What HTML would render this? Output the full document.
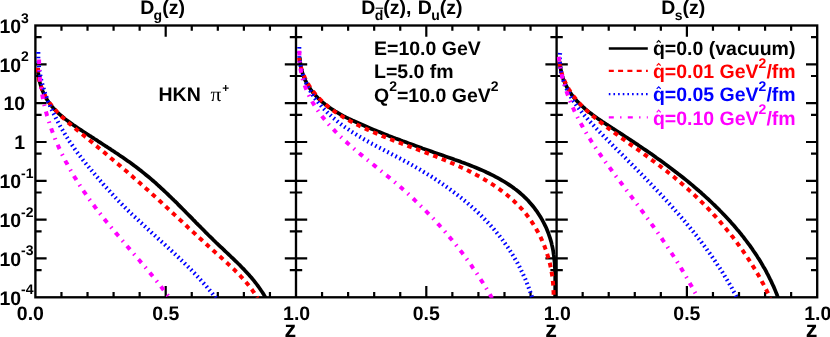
<!DOCTYPE html>
<html><head><meta charset="utf-8"><title>FF</title>
<style>html,body{margin:0;padding:0;background:#fff;}svg{display:block;will-change:transform;}text{font-family:"Liberation Sans",sans-serif;font-weight:bold;text-rendering:geometricPrecision;}</style>
</head><body>
<svg width="830" height="337" viewBox="0 0 830 337">
<rect x="0" y="0" width="830" height="337" fill="#fff"/>
<defs>
<clipPath id="c1"><rect x="35.4" y="25.5" width="260.6" height="272.3"/></clipPath>
<clipPath id="c2"><rect x="296.0" y="25.5" width="260.6" height="272.3"/></clipPath>
<clipPath id="c3"><rect x="556.6" y="25.5" width="260.6" height="272.3"/></clipPath>
</defs>
<g stroke="#000" fill="none" stroke-linecap="butt">
<rect x="35.4" y="25.5" width="781.8000000000001" height="271.8" stroke-width="2.35"/>
<line x1="296.0" y1="25.5" x2="296.0" y2="297.3" stroke-width="2.35"/>
<line x1="556.6" y1="25.5" x2="556.6" y2="297.3" stroke-width="2.35"/>
<path d="M61.46,25.5 v5.3 M61.46,297.3 v-5.3 M87.52,25.5 v5.3 M87.52,297.3 v-5.3 M113.58,25.5 v5.3 M113.58,297.3 v-5.3 M139.64,25.5 v5.3 M139.64,297.3 v-5.3 M165.70,25.5 v11.2 M165.70,297.3 v-11.2 M191.76,25.5 v5.3 M191.76,297.3 v-5.3 M217.82,25.5 v5.3 M217.82,297.3 v-5.3 M243.88,25.5 v5.3 M243.88,297.3 v-5.3 M269.94,25.5 v5.3 M269.94,297.3 v-5.3 M322.06,25.5 v5.3 M322.06,297.3 v-5.3 M348.12,25.5 v5.3 M348.12,297.3 v-5.3 M374.18,25.5 v5.3 M374.18,297.3 v-5.3 M400.24,25.5 v5.3 M400.24,297.3 v-5.3 M426.30,25.5 v11.2 M426.30,297.3 v-11.2 M452.36,25.5 v5.3 M452.36,297.3 v-5.3 M478.42,25.5 v5.3 M478.42,297.3 v-5.3 M504.48,25.5 v5.3 M504.48,297.3 v-5.3 M530.54,25.5 v5.3 M530.54,297.3 v-5.3 M582.66,25.5 v5.3 M582.66,297.3 v-5.3 M608.72,25.5 v5.3 M608.72,297.3 v-5.3 M634.78,25.5 v5.3 M634.78,297.3 v-5.3 M660.84,25.5 v5.3 M660.84,297.3 v-5.3 M686.90,25.5 v11.2 M686.90,297.3 v-11.2 M712.96,25.5 v5.3 M712.96,297.3 v-5.3 M739.02,25.5 v5.3 M739.02,297.3 v-5.3 M765.08,25.5 v5.3 M765.08,297.3 v-5.3 M791.14,25.5 v5.3 M791.14,297.3 v-5.3 M35.4,37.19 h6.2 M289.8,37.19 h12.4 M550.4,37.19 h12.4 M817.2,37.19 h-6.2 M35.4,64.33 h11.2 M284.8,64.33 h22.4 M545.4,64.33 h22.4 M817.2,64.33 h-11.2 M35.4,76.02 h6.2 M289.8,76.02 h12.4 M550.4,76.02 h12.4 M817.2,76.02 h-6.2 M35.4,103.16 h11.2 M284.8,103.16 h22.4 M545.4,103.16 h22.4 M817.2,103.16 h-11.2 M35.4,114.85 h6.2 M289.8,114.85 h12.4 M550.4,114.85 h12.4 M817.2,114.85 h-6.2 M35.4,141.99 h11.2 M284.8,141.99 h22.4 M545.4,141.99 h22.4 M817.2,141.99 h-11.2 M35.4,153.67 h6.2 M289.8,153.67 h12.4 M550.4,153.67 h12.4 M817.2,153.67 h-6.2 M35.4,180.81 h11.2 M284.8,180.81 h22.4 M545.4,180.81 h22.4 M817.2,180.81 h-11.2 M35.4,192.50 h6.2 M289.8,192.50 h12.4 M550.4,192.50 h12.4 M817.2,192.50 h-6.2 M35.4,219.64 h11.2 M284.8,219.64 h22.4 M545.4,219.64 h22.4 M817.2,219.64 h-11.2 M35.4,231.33 h6.2 M289.8,231.33 h12.4 M550.4,231.33 h12.4 M817.2,231.33 h-6.2 M35.4,258.47 h11.2 M284.8,258.47 h22.4 M545.4,258.47 h22.4 M817.2,258.47 h-11.2 M35.4,270.16 h6.2 M289.8,270.16 h12.4 M550.4,270.16 h12.4 M817.2,270.16 h-6.2" stroke-width="2.2"/>
</g>
<g clip-path="url(#c1)" fill="none" stroke-width="3.7" stroke-linejoin="round">
<path d="M37.9,68.0 L38.0,70.2 L38.2,72.5 L38.5,74.7 L38.8,76.9 L39.2,79.0 L39.6,81.1 L40.1,83.2 L40.7,85.2 L41.3,87.2 L42.0,89.2 L42.7,91.1 L43.5,93.0 L44.4,94.9 L45.3,96.7 L46.3,98.5 L47.4,100.2 L48.5,101.9 L49.6,103.5 L50.8,105.1 L52.1,106.6 L53.4,108.2 L54.8,109.6 L56.2,111.1 L57.6,112.5 L59.1,113.9 L60.6,115.2 L62.2,116.5 L63.7,117.8 L65.3,119.1 L67.0,120.4 L68.6,121.6 L70.3,122.8 L72.0,124.0 L73.7,125.2 L75.5,126.4 L77.2,127.6 L78.9,128.7 L80.7,129.9 L82.4,131.0 L84.2,132.2 L85.9,133.3 L87.7,134.5 L89.4,135.6 L91.2,136.7 L93.0,137.9 L94.7,139.0 L96.5,140.1 L98.2,141.3 L100.0,142.4 L101.7,143.5 L103.5,144.7 L105.2,145.8 L107.0,146.9 L108.7,148.1 L110.5,149.2 L112.2,150.4 L114.0,151.5 L115.7,152.7 L117.4,153.8 L119.1,155.0 L120.9,156.2 L122.6,157.3 L124.3,158.5 L126.0,159.7 L127.7,160.9 L129.4,162.1 L131.1,163.3 L132.7,164.5 L134.4,165.8 L136.1,167.0 L137.7,168.2 L139.3,169.5 L141.0,170.8 L142.6,172.1 L144.2,173.4 L145.8,174.7 L147.4,176.0 L149.0,177.3 L150.6,178.6 L152.1,180.0 L153.7,181.3 L155.3,182.7 L156.8,184.1 L158.3,185.5 L159.9,186.9 L161.4,188.3 L162.9,189.7 L164.4,191.1 L165.9,192.5 L167.4,193.9 L168.9,195.4 L170.4,196.8 L171.9,198.3 L173.4,199.7 L174.9,201.2 L176.4,202.6 L177.8,204.1 L179.3,205.6 L180.8,207.1 L182.2,208.5 L183.7,210.0 L185.2,211.5 L186.6,213.0 L188.1,214.5 L189.5,215.9 L191.0,217.4 L192.5,218.9 L193.9,220.4 L195.4,221.9 L196.8,223.4 L198.3,224.9 L199.8,226.3 L201.2,227.8 L202.7,229.3 L204.2,230.8 L205.6,232.3 L207.1,233.7 L208.6,235.2 L210.1,236.7 L211.6,238.1 L213.0,239.6 L214.5,241.0 L216.0,242.5 L217.5,243.9 L219.0,245.3 L220.6,246.8 L222.1,248.2 L223.6,249.6 L225.1,251.1 L226.6,252.5 L228.1,253.9 L229.6,255.3 L231.1,256.8 L232.6,258.2 L234.1,259.6 L235.6,261.1 L237.1,262.5 L238.6,264.0 L240.1,265.4 L241.5,266.9 L242.9,268.4 L244.4,269.9 L245.8,271.4 L247.2,272.9 L248.6,274.4 L249.9,276.0 L251.3,277.5 L252.6,279.1 L253.9,280.7 L255.2,282.3 L256.5,284.0 L257.7,285.6 L258.9,287.3 L260.1,289.0 L261.3,290.8 L262.5,292.5 L263.6,294.3 L264.7,296.1 L265.7,297.9" stroke="#000000" stroke-width="3.7"/>
<path d="M37.9,67.9 L38.0,70.2 L38.1,72.5 L38.3,74.6 L38.6,76.8 L39.0,78.9 L39.4,81.0 L40.0,83.0 L40.5,84.9 L41.2,86.9 L41.9,88.8 L42.6,90.6 L43.4,92.4 L44.3,94.2 L45.2,95.9 L46.2,97.7 L47.2,99.3 L48.3,101.0 L49.4,102.6 L50.6,104.2 L51.8,105.8 L53.0,107.3 L54.3,108.8 L55.6,110.3 L56.9,111.8 L58.3,113.2 L59.7,114.6 L61.1,116.1 L62.6,117.5 L64.1,118.8 L65.6,120.2 L67.1,121.6 L68.6,122.9 L70.2,124.2 L71.7,125.6 L73.3,126.9 L74.9,128.2 L76.4,129.5 L78.0,130.8 L79.6,132.1 L81.2,133.4 L82.8,134.7 L84.4,136.0 L86.0,137.3 L87.5,138.6 L89.1,139.9 L90.7,141.2 L92.3,142.5 L93.8,143.8 L95.4,145.1 L97.0,146.4 L98.5,147.7 L100.1,149.0 L101.7,150.3 L103.2,151.6 L104.8,152.9 L106.4,154.2 L107.9,155.5 L109.5,156.8 L111.0,158.2 L112.6,159.5 L114.1,160.8 L115.7,162.1 L117.2,163.4 L118.8,164.7 L120.3,166.0 L121.8,167.4 L123.4,168.7 L124.9,170.0 L126.5,171.3 L128.0,172.7 L129.5,174.0 L131.0,175.3 L132.6,176.6 L134.1,178.0 L135.6,179.3 L137.1,180.6 L138.7,182.0 L140.2,183.3 L141.7,184.7 L143.2,186.0 L144.7,187.4 L146.2,188.7 L147.8,190.1 L149.3,191.4 L150.8,192.8 L152.3,194.2 L153.8,195.5 L155.3,196.9 L156.8,198.3 L158.3,199.6 L159.8,201.0 L161.3,202.4 L162.7,203.8 L164.2,205.1 L165.7,206.5 L167.2,207.9 L168.7,209.3 L170.2,210.7 L171.7,212.1 L173.2,213.5 L174.7,214.9 L176.1,216.2 L177.6,217.6 L179.1,219.0 L180.6,220.4 L182.1,221.8 L183.6,223.2 L185.1,224.6 L186.6,226.0 L188.0,227.4 L189.5,228.8 L191.0,230.1 L192.5,231.5 L194.0,232.9 L195.5,234.3 L197.0,235.7 L198.5,237.1 L200.0,238.4 L201.5,239.8 L203.0,241.2 L204.5,242.6 L206.0,243.9 L207.5,245.3 L209.0,246.7 L210.5,248.1 L212.0,249.4 L213.5,250.8 L215.0,252.1 L216.5,253.5 L218.0,254.8 L219.6,256.2 L221.1,257.5 L222.6,258.9 L224.1,260.3 L225.6,261.6 L227.1,263.0 L228.6,264.4 L230.1,265.7 L231.5,267.1 L233.0,268.5 L234.5,269.9 L235.9,271.4 L237.3,272.8 L238.8,274.2 L240.2,275.7 L241.5,277.2 L242.9,278.7 L244.3,280.2 L245.6,281.7 L246.9,283.2 L248.2,284.8 L249.5,286.4 L250.7,288.0 L251.9,289.6 L253.1,291.3 L254.3,293.0 L255.4,294.7 L256.5,296.4 L257.6,298.2" stroke="#ff0000" stroke-width="4.0" stroke-dasharray="4.6 4.6"/>
<path d="M38.3,52.1 L38.3,54.1 L38.3,56.1 L38.3,58.0 L38.4,60.0 L38.5,61.9 L38.7,63.9 L38.9,65.8 L39.1,67.8 L39.3,69.7 L39.6,71.6 L40.0,73.6 L40.3,75.5 L40.7,77.4 L41.1,79.3 L41.5,81.2 L42.0,83.1 L42.5,85.0 L43.1,86.8 L43.6,88.7 L44.2,90.6 L44.8,92.4 L45.4,94.3 L46.1,96.1 L46.8,97.9 L47.5,99.8 L48.2,101.6 L49.0,103.4 L49.7,105.2 L50.5,107.0 L51.3,108.8 L52.2,110.6 L53.0,112.4 L53.9,114.1 L54.8,115.9 L55.6,117.6 L56.6,119.4 L57.5,121.1 L58.4,122.8 L59.4,124.6 L60.3,126.3 L61.3,128.0 L62.3,129.7 L63.3,131.4 L64.3,133.0 L65.3,134.7 L66.4,136.4 L67.4,138.0 L68.5,139.7 L69.5,141.3 L70.6,142.9 L71.7,144.5 L72.8,146.1 L73.9,147.7 L75.0,149.3 L76.1,150.9 L77.3,152.5 L78.4,154.0 L79.6,155.6 L80.8,157.1 L82.0,158.6 L83.2,160.2 L84.4,161.7 L85.6,163.2 L86.8,164.7 L88.1,166.2 L89.3,167.7 L90.6,169.2 L91.8,170.7 L93.1,172.2 L94.3,173.7 L95.6,175.2 L96.8,176.7 L98.1,178.2 L99.4,179.7 L100.7,181.2 L102.0,182.6 L103.2,184.1 L104.5,185.6 L105.8,187.1 L107.1,188.5 L108.4,190.0 L109.8,191.4 L111.1,192.9 L112.4,194.3 L113.7,195.8 L115.1,197.2 L116.4,198.6 L117.8,200.1 L119.1,201.5 L120.5,202.9 L121.9,204.3 L123.2,205.7 L124.6,207.0 L126.0,208.4 L127.4,209.8 L128.8,211.2 L130.2,212.5 L131.6,213.9 L133.0,215.2 L134.4,216.6 L135.9,217.9 L137.3,219.3 L138.7,220.6 L140.1,222.0 L141.6,223.3 L143.0,224.6 L144.4,225.9 L145.9,227.3 L147.3,228.6 L148.7,229.9 L150.2,231.2 L151.6,232.6 L153.1,233.9 L154.5,235.2 L155.9,236.5 L157.4,237.8 L158.8,239.2 L160.3,240.5 L161.7,241.8 L163.2,243.1 L164.6,244.4 L166.0,245.8 L167.5,247.1 L168.9,248.4 L170.3,249.7 L171.8,251.1 L173.2,252.4 L174.6,253.7 L176.0,255.1 L177.4,256.4 L178.9,257.8 L180.3,259.1 L181.7,260.5 L183.1,261.8 L184.5,263.2 L185.9,264.6 L187.3,266.0 L188.6,267.3 L190.0,268.7 L191.4,270.1 L192.7,271.5 L194.1,272.9 L195.4,274.3 L196.8,275.7 L198.1,277.2 L199.5,278.6 L200.8,280.1 L202.1,281.5 L203.4,283.0 L204.7,284.4 L206.0,285.9 L207.3,287.4 L208.5,288.9 L209.8,290.4 L211.1,291.9 L212.3,293.4 L213.5,295.0 L214.8,296.5 L216.0,298.1" stroke="#0000ff" stroke-width="4.1" stroke-dasharray="1.6 2.95"/>
<path d="M39.1,59.4 L39.1,61.2 L39.1,63.0 L39.2,64.9 L39.2,66.7 L39.3,68.5 L39.4,70.3 L39.5,72.1 L39.6,73.9 L39.7,75.7 L39.9,77.5 L40.0,79.3 L40.2,81.0 L40.4,82.8 L40.6,84.6 L40.9,86.3 L41.1,88.1 L41.4,89.8 L41.7,91.6 L41.9,93.3 L42.3,95.1 L42.6,96.8 L42.9,98.5 L43.3,100.3 L43.6,102.0 L44.0,103.7 L44.4,105.4 L44.8,107.1 L45.2,108.8 L45.7,110.5 L46.1,112.2 L46.6,113.8 L47.0,115.5 L47.5,117.2 L48.0,118.8 L48.5,120.5 L49.1,122.2 L49.6,123.8 L50.2,125.5 L50.7,127.1 L51.3,128.7 L51.9,130.4 L52.5,132.0 L53.1,133.6 L53.7,135.2 L54.4,136.8 L55.0,138.5 L55.7,140.1 L56.3,141.7 L57.0,143.2 L57.7,144.8 L58.4,146.4 L59.1,148.0 L59.9,149.6 L60.6,151.1 L61.3,152.7 L62.1,154.3 L62.9,155.8 L63.7,157.4 L64.4,158.9 L65.2,160.5 L66.0,162.0 L66.9,163.5 L67.7,165.1 L68.5,166.6 L69.4,168.1 L70.2,169.6 L71.1,171.1 L72.0,172.6 L72.9,174.1 L73.7,175.6 L74.6,177.1 L75.6,178.6 L76.5,180.1 L77.4,181.6 L78.3,183.0 L79.3,184.5 L80.2,186.0 L81.2,187.4 L82.1,188.9 L83.1,190.3 L84.1,191.8 L85.1,193.2 L86.1,194.7 L87.1,196.1 L88.1,197.5 L89.1,199.0 L90.1,200.4 L91.1,201.8 L92.2,203.2 L93.2,204.6 L94.3,206.0 L95.3,207.4 L96.4,208.8 L97.4,210.2 L98.5,211.6 L99.6,213.0 L100.7,214.4 L101.8,215.7 L102.8,217.1 L103.9,218.5 L105.0,219.9 L106.1,221.2 L107.2,222.6 L108.4,223.9 L109.5,225.3 L110.6,226.7 L111.7,228.0 L112.8,229.4 L114.0,230.7 L115.1,232.0 L116.2,233.4 L117.4,234.7 L118.5,236.1 L119.6,237.4 L120.8,238.7 L121.9,240.1 L123.1,241.4 L124.2,242.7 L125.3,244.1 L126.5,245.4 L127.6,246.7 L128.8,248.1 L129.9,249.4 L131.1,250.7 L132.2,252.0 L133.4,253.4 L134.5,254.7 L135.7,256.0 L136.8,257.4 L137.9,258.7 L139.1,260.0 L140.2,261.3 L141.3,262.7 L142.5,264.0 L143.6,265.3 L144.7,266.7 L145.9,268.0 L147.0,269.3 L148.1,270.7 L149.2,272.0 L150.4,273.4 L151.5,274.7 L152.6,276.1 L153.7,277.4 L154.8,278.8 L155.9,280.1 L157.0,281.5 L158.0,282.8 L159.1,284.2 L160.2,285.5 L161.3,286.9 L162.3,288.3 L163.4,289.7 L164.4,291.0 L165.5,292.4 L166.5,293.8 L167.6,295.2 L168.6,296.6 L169.6,298.0" stroke="#ff00ff" stroke-width="4.0" stroke-dasharray="4.7 5.7 1.5 5.7"/>
</g>
<g clip-path="url(#c2)" fill="none" stroke-width="3.7" stroke-linejoin="round">
<path d="M299.8,57.5 L300.0,60.2 L300.3,62.8 L300.6,65.4 L301.1,67.9 L301.7,70.4 L302.4,72.8 L303.1,75.1 L304.0,77.4 L304.9,79.6 L306.0,81.7 L307.1,83.8 L308.3,85.9 L309.6,87.9 L310.9,89.8 L312.3,91.7 L313.8,93.5 L315.4,95.3 L317.0,97.0 L318.6,98.7 L320.4,100.3 L322.1,101.9 L324.0,103.4 L325.8,104.9 L327.7,106.3 L329.7,107.7 L331.7,109.1 L333.7,110.4 L335.8,111.7 L337.9,112.9 L340.0,114.1 L342.2,115.3 L344.3,116.5 L346.5,117.6 L348.7,118.7 L351.0,119.7 L353.2,120.8 L355.4,121.8 L357.7,122.8 L359.9,123.8 L362.2,124.8 L364.4,125.8 L366.7,126.8 L368.9,127.7 L371.2,128.7 L373.4,129.6 L375.6,130.5 L377.9,131.4 L380.1,132.3 L382.3,133.2 L384.6,134.1 L386.8,135.0 L389.0,135.9 L391.2,136.7 L393.5,137.6 L395.7,138.5 L397.9,139.3 L400.2,140.1 L402.4,141.0 L404.6,141.8 L406.9,142.6 L409.1,143.5 L411.4,144.3 L413.6,145.1 L415.9,145.9 L418.1,146.7 L420.4,147.5 L422.6,148.4 L424.9,149.2 L427.2,150.0 L429.4,150.8 L431.7,151.6 L434.0,152.4 L436.3,153.2 L438.6,154.0 L440.9,154.8 L443.2,155.6 L445.5,156.4 L447.8,157.2 L450.2,158.0 L452.5,158.8 L454.8,159.7 L457.2,160.5 L459.5,161.3 L461.8,162.2 L464.1,163.0 L466.4,163.9 L468.8,164.8 L471.1,165.7 L473.4,166.6 L475.6,167.5 L477.9,168.5 L480.2,169.5 L482.4,170.4 L484.7,171.4 L486.9,172.5 L489.1,173.5 L491.3,174.6 L493.5,175.7 L495.6,176.8 L497.7,177.9 L499.9,179.1 L501.9,180.3 L504.0,181.5 L506.0,182.8 L508.1,184.1 L510.0,185.4 L512.0,186.8 L513.9,188.1 L515.8,189.6 L517.7,191.0 L519.5,192.5 L521.3,194.1 L523.1,195.7 L524.8,197.3 L526.5,198.9 L528.1,200.6 L529.7,202.4 L531.3,204.2 L532.8,206.0 L534.3,207.9 L535.7,209.8 L537.1,211.7 L538.4,213.7 L539.7,215.7 L541.0,217.8 L542.2,219.9 L543.3,222.0 L544.4,224.1 L545.5,226.3 L546.5,228.5 L547.4,230.7 L548.3,233.0 L549.1,235.3 L549.9,237.6 L550.6,239.9 L551.3,242.2 L551.8,244.6 L552.4,247.0 L552.9,249.4 L553.3,251.8 L553.6,254.2 L554.0,256.7 L554.2,259.1 L554.5,261.6 L554.7,264.0 L554.8,266.5 L555.0,268.9 L555.0,271.4 L555.1,273.9 L555.2,276.3 L555.2,278.8 L555.2,281.2 L555.2,283.6 L555.2,286.1 L555.2,288.5 L555.2,290.9 L555.1,293.2 L555.1,295.6 L555.1,297.9" stroke="#000000" stroke-width="3.7"/>
<path d="M299.0,57.7 L299.4,60.3 L299.9,62.8 L300.5,65.3 L301.1,67.7 L301.8,70.0 L302.6,72.3 L303.4,74.6 L304.4,76.7 L305.3,78.9 L306.4,81.0 L307.5,83.0 L308.7,85.0 L309.9,87.0 L311.2,88.9 L312.6,90.7 L314.0,92.5 L315.4,94.3 L316.9,96.0 L318.5,97.7 L320.1,99.4 L321.7,101.0 L323.4,102.6 L325.1,104.1 L326.9,105.6 L328.7,107.1 L330.5,108.5 L332.4,109.9 L334.3,111.3 L336.2,112.6 L338.2,113.9 L340.2,115.2 L342.2,116.4 L344.2,117.7 L346.3,118.9 L348.3,120.0 L350.4,121.2 L352.5,122.3 L354.6,123.4 L356.8,124.5 L358.9,125.5 L361.0,126.6 L363.2,127.6 L365.4,128.6 L367.5,129.6 L369.7,130.6 L371.8,131.5 L374.0,132.5 L376.2,133.4 L378.4,134.3 L380.5,135.3 L382.7,136.2 L384.9,137.0 L387.1,137.9 L389.3,138.8 L391.5,139.7 L393.7,140.5 L395.9,141.4 L398.1,142.2 L400.3,143.0 L402.5,143.9 L404.7,144.7 L406.9,145.5 L409.1,146.4 L411.3,147.2 L413.5,148.0 L415.8,148.9 L418.0,149.7 L420.2,150.5 L422.4,151.3 L424.6,152.2 L426.8,153.0 L429.0,153.9 L431.2,154.7 L433.4,155.6 L435.7,156.4 L437.9,157.3 L440.1,158.2 L442.3,159.1 L444.5,160.0 L446.7,160.9 L448.9,161.8 L451.1,162.8 L453.3,163.7 L455.5,164.7 L457.6,165.7 L459.8,166.7 L462.0,167.7 L464.2,168.7 L466.3,169.7 L468.4,170.8 L470.6,171.9 L472.7,173.0 L474.8,174.1 L476.9,175.2 L479.0,176.3 L481.1,177.5 L483.1,178.7 L485.2,179.9 L487.2,181.1 L489.2,182.3 L491.2,183.6 L493.2,184.9 L495.1,186.2 L497.1,187.5 L499.0,188.9 L500.9,190.3 L502.7,191.7 L504.6,193.1 L506.4,194.5 L508.2,196.0 L510.0,197.5 L511.7,199.1 L513.4,200.6 L515.1,202.2 L516.8,203.8 L518.4,205.5 L520.0,207.1 L521.6,208.8 L523.1,210.6 L524.6,212.3 L526.1,214.1 L527.5,215.9 L528.9,217.8 L530.3,219.7 L531.6,221.6 L532.9,223.6 L534.1,225.5 L535.4,227.5 L536.5,229.6 L537.7,231.6 L538.8,233.7 L539.9,235.8 L540.9,237.9 L541.9,240.1 L542.8,242.2 L543.8,244.4 L544.6,246.6 L545.5,248.9 L546.3,251.1 L547.0,253.4 L547.7,255.7 L548.4,258.0 L549.1,260.3 L549.7,262.6 L550.2,264.9 L550.7,267.3 L551.2,269.6 L551.6,272.0 L552.0,274.3 L552.4,276.7 L552.7,279.1 L552.9,281.5 L553.1,283.9 L553.3,286.3 L553.4,288.7 L553.5,291.1 L553.6,293.5 L553.6,295.9 L553.5,298.3" stroke="#ff0000" stroke-width="4.0" stroke-dasharray="4.6 4.6"/>
<path d="M299.3,47.0 L299.2,49.5 L299.2,51.9 L299.2,54.3 L299.3,56.7 L299.5,59.0 L299.8,61.4 L300.1,63.7 L300.6,65.9 L301.0,68.2 L301.6,70.4 L302.2,72.5 L302.8,74.7 L303.6,76.8 L304.3,78.9 L305.2,81.0 L306.1,83.0 L307.0,85.0 L308.0,87.0 L309.1,88.9 L310.2,90.8 L311.3,92.7 L312.5,94.6 L313.8,96.4 L315.0,98.2 L316.4,100.0 L317.7,101.8 L319.1,103.5 L320.6,105.2 L322.0,106.9 L323.5,108.5 L325.1,110.1 L326.6,111.7 L328.2,113.3 L329.9,114.8 L331.5,116.3 L333.2,117.8 L334.9,119.2 L336.6,120.7 L338.3,122.1 L340.1,123.4 L341.8,124.8 L343.6,126.1 L345.4,127.4 L347.3,128.7 L349.1,129.9 L350.9,131.2 L352.8,132.4 L354.7,133.6 L356.6,134.8 L358.5,136.0 L360.4,137.1 L362.3,138.2 L364.3,139.4 L366.2,140.5 L368.2,141.6 L370.1,142.7 L372.1,143.8 L374.1,144.8 L376.0,145.9 L378.0,147.0 L380.0,148.0 L382.0,149.1 L384.0,150.1 L386.0,151.2 L388.0,152.2 L390.0,153.3 L392.0,154.3 L394.0,155.4 L396.0,156.4 L398.0,157.5 L400.0,158.5 L402.0,159.6 L404.0,160.7 L406.0,161.7 L408.0,162.8 L410.0,163.9 L412.0,165.0 L413.9,166.1 L415.9,167.3 L417.9,168.4 L419.8,169.5 L421.8,170.7 L423.7,171.9 L425.6,173.0 L427.5,174.2 L429.5,175.4 L431.4,176.6 L433.3,177.8 L435.2,179.1 L437.1,180.3 L438.9,181.6 L440.8,182.8 L442.7,184.1 L444.5,185.4 L446.3,186.7 L448.2,188.0 L450.0,189.3 L451.8,190.6 L453.6,192.0 L455.4,193.3 L457.1,194.7 L458.9,196.1 L460.7,197.5 L462.4,198.9 L464.1,200.3 L465.8,201.7 L467.5,203.1 L469.2,204.6 L470.9,206.1 L472.6,207.5 L474.2,209.0 L475.8,210.5 L477.5,212.1 L479.1,213.6 L480.7,215.1 L482.2,216.7 L483.8,218.3 L485.3,219.9 L486.9,221.5 L488.4,223.1 L489.9,224.7 L491.4,226.4 L492.8,228.0 L494.3,229.7 L495.7,231.4 L497.1,233.1 L498.5,234.8 L499.9,236.6 L501.2,238.3 L502.6,240.1 L503.9,241.9 L505.2,243.7 L506.5,245.5 L507.8,247.3 L509.0,249.2 L510.2,251.0 L511.4,252.9 L512.6,254.8 L513.8,256.7 L514.9,258.6 L516.1,260.6 L517.2,262.5 L518.2,264.5 L519.3,266.5 L520.3,268.5 L521.3,270.6 L522.3,272.6 L523.3,274.7 L524.2,276.8 L525.2,278.9 L526.1,281.0 L526.9,283.1 L527.8,285.3 L528.6,287.4 L529.4,289.6 L530.2,291.8 L530.9,294.1 L531.7,296.3 L532.4,298.6" stroke="#0000ff" stroke-width="4.1" stroke-dasharray="1.6 2.95"/>
<path d="M299.4,50.8 L299.4,53.0 L299.4,55.3 L299.4,57.5 L299.5,59.7 L299.7,61.8 L299.9,63.9 L300.1,66.1 L300.4,68.1 L300.7,70.2 L301.1,72.2 L301.5,74.3 L302.0,76.3 L302.5,78.2 L303.0,80.2 L303.6,82.1 L304.2,84.0 L304.9,85.9 L305.6,87.8 L306.3,89.6 L307.1,91.4 L307.9,93.2 L308.8,95.0 L309.6,96.8 L310.5,98.6 L311.5,100.3 L312.4,102.0 L313.4,103.7 L314.5,105.4 L315.5,107.1 L316.6,108.7 L317.7,110.3 L318.8,111.9 L320.0,113.5 L321.2,115.1 L322.4,116.7 L323.6,118.2 L324.9,119.8 L326.1,121.3 L327.4,122.8 L328.7,124.3 L330.1,125.8 L331.4,127.3 L332.8,128.7 L334.2,130.2 L335.5,131.6 L336.9,133.0 L338.4,134.5 L339.8,135.9 L341.2,137.2 L342.7,138.6 L344.2,140.0 L345.6,141.4 L347.1,142.7 L348.6,144.1 L350.1,145.4 L351.7,146.7 L353.2,148.0 L354.7,149.4 L356.2,150.7 L357.8,152.0 L359.3,153.3 L360.9,154.6 L362.5,155.9 L364.0,157.2 L365.6,158.4 L367.2,159.7 L368.8,161.0 L370.3,162.3 L371.9,163.6 L373.5,164.8 L375.1,166.1 L376.7,167.4 L378.2,168.7 L379.8,169.9 L381.4,171.2 L383.0,172.5 L384.6,173.8 L386.1,175.1 L387.7,176.3 L389.3,177.6 L390.9,178.9 L392.4,180.2 L394.0,181.5 L395.5,182.8 L397.1,184.2 L398.6,185.5 L400.1,186.8 L401.6,188.1 L403.2,189.5 L404.7,190.8 L406.2,192.2 L407.7,193.5 L409.2,194.9 L410.6,196.2 L412.1,197.6 L413.6,199.0 L415.0,200.4 L416.5,201.8 L418.0,203.2 L419.4,204.6 L420.8,206.0 L422.3,207.4 L423.7,208.8 L425.1,210.2 L426.5,211.7 L427.9,213.1 L429.3,214.5 L430.7,216.0 L432.1,217.5 L433.5,218.9 L434.8,220.4 L436.2,221.9 L437.5,223.3 L438.9,224.8 L440.2,226.3 L441.6,227.8 L442.9,229.3 L444.2,230.8 L445.5,232.3 L446.8,233.9 L448.1,235.4 L449.4,236.9 L450.7,238.5 L452.0,240.0 L453.3,241.6 L454.5,243.1 L455.8,244.7 L457.0,246.3 L458.3,247.9 L459.5,249.4 L460.7,251.0 L462.0,252.6 L463.2,254.2 L464.4,255.8 L465.6,257.5 L466.8,259.1 L467.9,260.7 L469.1,262.4 L470.3,264.0 L471.5,265.6 L472.6,267.3 L473.8,269.0 L474.9,270.6 L476.0,272.3 L477.2,274.0 L478.3,275.7 L479.4,277.4 L480.5,279.1 L481.6,280.8 L482.7,282.5 L483.7,284.2 L484.8,285.9 L485.9,287.7 L486.9,289.4 L488.0,291.2 L489.0,292.9 L490.1,294.7 L491.1,296.5 L492.1,298.2" stroke="#ff00ff" stroke-width="4.0" stroke-dasharray="4.7 5.7 1.5 5.7"/>
</g>
<g clip-path="url(#c3)" fill="none" stroke-width="3.7" stroke-linejoin="round">
<path d="M560.0,61.7 L560.1,64.1 L560.4,66.3 L560.7,68.6 L561.0,70.7 L561.5,72.8 L562.0,74.9 L562.6,76.9 L563.2,78.9 L564.0,80.9 L564.7,82.7 L565.6,84.6 L566.5,86.4 L567.4,88.2 L568.4,89.9 L569.5,91.6 L570.6,93.2 L571.8,94.8 L573.0,96.4 L574.3,98.0 L575.6,99.5 L576.9,101.0 L578.3,102.4 L579.7,103.9 L581.2,105.3 L582.7,106.7 L584.2,108.0 L585.7,109.3 L587.3,110.7 L588.9,112.0 L590.6,113.2 L592.2,114.5 L593.9,115.7 L595.6,116.9 L597.3,118.2 L599.0,119.4 L600.8,120.5 L602.5,121.7 L604.3,122.9 L606.0,124.1 L607.8,125.2 L609.6,126.4 L611.4,127.5 L613.1,128.7 L614.9,129.8 L616.7,131.0 L618.4,132.1 L620.2,133.2 L622.0,134.4 L623.7,135.5 L625.5,136.7 L627.2,137.8 L629.0,139.0 L630.7,140.1 L632.5,141.3 L634.2,142.4 L635.9,143.6 L637.7,144.7 L639.4,145.9 L641.1,147.1 L642.8,148.2 L644.5,149.4 L646.3,150.6 L648.0,151.8 L649.7,152.9 L651.4,154.1 L653.1,155.3 L654.8,156.5 L656.4,157.7 L658.1,158.9 L659.8,160.1 L661.5,161.3 L663.2,162.5 L664.8,163.7 L666.5,164.9 L668.2,166.2 L669.8,167.4 L671.5,168.7 L673.1,169.9 L674.8,171.2 L676.4,172.4 L678.0,173.7 L679.7,175.0 L681.3,176.2 L682.9,177.5 L684.5,178.8 L686.2,180.1 L687.8,181.4 L689.4,182.8 L691.0,184.1 L692.6,185.4 L694.2,186.8 L695.7,188.1 L697.3,189.5 L698.9,190.8 L700.5,192.2 L702.0,193.6 L703.6,195.0 L705.1,196.4 L706.7,197.8 L708.2,199.2 L709.7,200.6 L711.2,202.0 L712.7,203.5 L714.2,204.9 L715.7,206.4 L717.2,207.8 L718.7,209.3 L720.1,210.8 L721.6,212.3 L723.0,213.7 L724.5,215.3 L725.9,216.8 L727.3,218.3 L728.7,219.8 L730.1,221.3 L731.5,222.9 L732.9,224.4 L734.3,226.0 L735.6,227.6 L736.9,229.2 L738.3,230.7 L739.6,232.3 L740.9,233.9 L742.2,235.6 L743.5,237.2 L744.7,238.8 L746.0,240.5 L747.2,242.1 L748.5,243.8 L749.7,245.4 L750.9,247.1 L752.1,248.8 L753.2,250.5 L754.4,252.2 L755.6,253.9 L756.7,255.6 L757.8,257.4 L758.9,259.1 L760.0,260.8 L761.1,262.6 L762.1,264.4 L763.1,266.2 L764.2,267.9 L765.2,269.7 L766.2,271.5 L767.1,273.4 L768.1,275.2 L769.0,277.0 L769.9,278.9 L770.9,280.7 L771.7,282.6 L772.6,284.5 L773.5,286.3 L774.3,288.2 L775.1,290.1 L775.9,292.1 L776.7,294.0 L777.4,295.9 L778.2,297.8" stroke="#000000" stroke-width="3.7"/>
<path d="M559.4,62.1 L559.7,64.3 L560.1,66.4 L560.5,68.5 L561.0,70.5 L561.5,72.5 L562.1,74.5 L562.8,76.4 L563.5,78.3 L564.2,80.1 L565.0,82.0 L565.9,83.8 L566.8,85.5 L567.7,87.3 L568.7,89.0 L569.7,90.6 L570.8,92.3 L571.9,93.9 L573.0,95.5 L574.2,97.1 L575.4,98.6 L576.7,100.1 L577.9,101.6 L579.3,103.1 L580.6,104.5 L582.0,106.0 L583.4,107.4 L584.8,108.8 L586.2,110.1 L587.7,111.5 L589.2,112.8 L590.7,114.2 L592.2,115.5 L593.8,116.8 L595.3,118.1 L596.9,119.4 L598.5,120.6 L600.1,121.9 L601.7,123.1 L603.3,124.4 L604.9,125.6 L606.5,126.9 L608.2,128.1 L609.8,129.3 L611.4,130.5 L613.1,131.7 L614.7,133.0 L616.4,134.2 L618.0,135.4 L619.7,136.6 L621.3,137.8 L623.0,139.0 L624.6,140.2 L626.3,141.4 L628.0,142.6 L629.6,143.8 L631.3,145.0 L632.9,146.1 L634.6,147.3 L636.2,148.5 L637.9,149.7 L639.6,150.9 L641.2,152.1 L642.9,153.3 L644.5,154.5 L646.2,155.7 L647.8,156.9 L649.5,158.1 L651.1,159.4 L652.7,160.6 L654.4,161.8 L656.0,163.0 L657.6,164.2 L659.3,165.5 L660.9,166.7 L662.5,168.0 L664.1,169.2 L665.7,170.5 L667.3,171.7 L668.9,173.0 L670.5,174.2 L672.1,175.5 L673.7,176.8 L675.2,178.1 L676.8,179.4 L678.3,180.7 L679.9,182.0 L681.4,183.4 L683.0,184.7 L684.5,186.0 L686.0,187.4 L687.5,188.7 L689.0,190.1 L690.5,191.5 L692.0,192.8 L693.5,194.2 L695.0,195.6 L696.5,197.0 L697.9,198.4 L699.4,199.8 L700.9,201.3 L702.3,202.7 L703.7,204.1 L705.2,205.6 L706.6,207.0 L708.0,208.5 L709.4,209.9 L710.8,211.4 L712.2,212.9 L713.5,214.4 L714.9,215.9 L716.3,217.4 L717.6,218.9 L719.0,220.4 L720.3,221.9 L721.6,223.5 L722.9,225.0 L724.2,226.6 L725.5,228.1 L726.8,229.7 L728.1,231.3 L729.4,232.8 L730.7,234.4 L731.9,236.0 L733.2,237.6 L734.4,239.2 L735.6,240.8 L736.8,242.5 L738.0,244.1 L739.2,245.7 L740.4,247.4 L741.6,249.0 L742.8,250.7 L743.9,252.3 L745.1,254.0 L746.2,255.7 L747.3,257.4 L748.5,259.1 L749.6,260.8 L750.7,262.5 L751.8,264.2 L752.8,265.9 L753.9,267.6 L755.0,269.4 L756.0,271.1 L757.0,272.9 L758.1,274.6 L759.1,276.4 L760.1,278.2 L761.1,280.0 L762.0,281.7 L763.0,283.5 L764.0,285.3 L764.9,287.2 L765.9,289.0 L766.8,290.8 L767.7,292.6 L768.6,294.5 L769.5,296.3 L770.4,298.2" stroke="#ff0000" stroke-width="4.0" stroke-dasharray="4.6 4.6"/>
<path d="M560.1,53.0 L559.9,55.1 L559.8,57.3 L559.8,59.4 L559.9,61.5 L560.0,63.5 L560.2,65.6 L560.4,67.6 L560.7,69.5 L561.0,71.5 L561.4,73.4 L561.8,75.3 L562.3,77.1 L562.8,79.0 L563.4,80.8 L564.0,82.6 L564.7,84.4 L565.4,86.1 L566.2,87.9 L567.0,89.6 L567.8,91.3 L568.7,92.9 L569.6,94.6 L570.5,96.2 L571.5,97.9 L572.5,99.5 L573.5,101.1 L574.6,102.6 L575.7,104.2 L576.8,105.7 L577.9,107.3 L579.1,108.8 L580.3,110.3 L581.5,111.8 L582.7,113.3 L583.9,114.7 L585.2,116.2 L586.5,117.7 L587.7,119.1 L589.0,120.6 L590.4,122.0 L591.7,123.4 L593.0,124.8 L594.3,126.2 L595.7,127.7 L597.0,129.1 L598.4,130.5 L599.7,131.9 L601.0,133.3 L602.4,134.7 L603.7,136.1 L605.1,137.5 L606.4,138.8 L607.8,140.2 L609.2,141.6 L610.5,143.0 L611.9,144.4 L613.2,145.8 L614.6,147.1 L615.9,148.5 L617.3,149.9 L618.7,151.3 L620.0,152.6 L621.4,154.0 L622.8,155.4 L624.1,156.8 L625.5,158.1 L626.8,159.5 L628.2,160.9 L629.6,162.3 L630.9,163.6 L632.3,165.0 L633.6,166.4 L635.0,167.7 L636.4,169.1 L637.7,170.5 L639.1,171.9 L640.4,173.3 L641.8,174.6 L643.1,176.0 L644.5,177.4 L645.8,178.8 L647.2,180.2 L648.5,181.6 L649.8,183.0 L651.2,184.4 L652.5,185.8 L653.9,187.2 L655.2,188.6 L656.5,190.0 L657.9,191.4 L659.2,192.8 L660.5,194.2 L661.8,195.6 L663.1,197.0 L664.5,198.5 L665.8,199.9 L667.1,201.3 L668.4,202.7 L669.7,204.2 L671.0,205.6 L672.3,207.1 L673.5,208.5 L674.8,209.9 L676.1,211.4 L677.4,212.9 L678.7,214.3 L679.9,215.8 L681.2,217.2 L682.5,218.7 L683.7,220.2 L685.0,221.7 L686.2,223.1 L687.4,224.6 L688.7,226.1 L689.9,227.6 L691.1,229.1 L692.3,230.6 L693.6,232.1 L694.8,233.6 L696.0,235.1 L697.2,236.6 L698.3,238.2 L699.5,239.7 L700.7,241.2 L701.9,242.8 L703.0,244.3 L704.2,245.8 L705.3,247.4 L706.5,248.9 L707.6,250.5 L708.8,252.1 L709.9,253.6 L711.0,255.2 L712.1,256.8 L713.2,258.4 L714.3,260.0 L715.4,261.6 L716.5,263.2 L717.5,264.8 L718.6,266.4 L719.7,268.0 L720.7,269.6 L721.7,271.2 L722.8,272.9 L723.8,274.5 L724.8,276.2 L725.8,277.8 L726.8,279.5 L727.8,281.1 L728.8,282.8 L729.8,284.5 L730.7,286.1 L731.7,287.8 L732.6,289.5 L733.5,291.2 L734.5,292.9 L735.4,294.6 L736.3,296.4 L737.2,298.1" stroke="#0000ff" stroke-width="4.1" stroke-dasharray="1.6 2.95"/>
<path d="M558.7,56.8 L558.9,58.7 L559.2,60.5 L559.4,62.3 L559.7,64.1 L560.0,65.9 L560.3,67.7 L560.6,69.4 L561.0,71.2 L561.3,73.0 L561.7,74.7 L562.1,76.4 L562.6,78.2 L563.0,79.9 L563.5,81.6 L563.9,83.3 L564.4,85.0 L565.0,86.7 L565.5,88.4 L566.0,90.0 L566.6,91.7 L567.2,93.4 L567.8,95.0 L568.4,96.6 L569.0,98.3 L569.6,99.9 L570.3,101.5 L571.0,103.1 L571.6,104.8 L572.3,106.4 L573.1,108.0 L573.8,109.5 L574.5,111.1 L575.3,112.7 L576.0,114.3 L576.8,115.8 L577.6,117.4 L578.4,118.9 L579.2,120.5 L580.0,122.0 L580.9,123.6 L581.7,125.1 L582.6,126.6 L583.4,128.2 L584.3,129.7 L585.2,131.2 L586.1,132.7 L587.0,134.2 L587.9,135.7 L588.8,137.2 L589.8,138.7 L590.7,140.2 L591.6,141.7 L592.6,143.1 L593.6,144.6 L594.5,146.1 L595.5,147.5 L596.5,149.0 L597.5,150.5 L598.5,151.9 L599.5,153.4 L600.5,154.8 L601.5,156.3 L602.5,157.7 L603.5,159.2 L604.6,160.6 L605.6,162.1 L606.6,163.5 L607.7,164.9 L608.7,166.4 L609.8,167.8 L610.8,169.2 L611.9,170.7 L612.9,172.1 L614.0,173.5 L615.1,175.0 L616.1,176.4 L617.2,177.8 L618.3,179.2 L619.3,180.6 L620.4,182.1 L621.5,183.5 L622.6,184.9 L623.6,186.3 L624.7,187.8 L625.8,189.2 L626.8,190.6 L627.9,192.0 L629.0,193.4 L630.0,194.9 L631.1,196.3 L632.2,197.7 L633.2,199.1 L634.3,200.5 L635.4,202.0 L636.4,203.4 L637.5,204.8 L638.6,206.2 L639.6,207.7 L640.7,209.1 L641.7,210.5 L642.8,211.9 L643.8,213.4 L644.9,214.8 L645.9,216.2 L647.0,217.7 L648.0,219.1 L649.0,220.5 L650.1,222.0 L651.1,223.4 L652.1,224.8 L653.2,226.3 L654.2,227.7 L655.2,229.2 L656.2,230.6 L657.3,232.0 L658.3,233.5 L659.3,234.9 L660.3,236.4 L661.3,237.8 L662.3,239.3 L663.3,240.8 L664.3,242.2 L665.3,243.7 L666.3,245.1 L667.3,246.6 L668.2,248.1 L669.2,249.6 L670.2,251.0 L671.1,252.5 L672.1,254.0 L673.1,255.5 L674.0,256.9 L675.0,258.4 L675.9,259.9 L676.9,261.4 L677.8,262.9 L678.7,264.4 L679.7,265.9 L680.6,267.4 L681.5,268.9 L682.4,270.4 L683.3,271.9 L684.2,273.4 L685.1,275.0 L686.0,276.5 L686.9,278.0 L687.8,279.5 L688.7,281.1 L689.5,282.6 L690.4,284.2 L691.3,285.7 L692.1,287.2 L693.0,288.8 L693.8,290.4 L694.6,291.9 L695.5,293.5 L696.3,295.0 L697.1,296.6 L697.9,298.2" stroke="#ff00ff" stroke-width="4.0" stroke-dasharray="4.7 5.7 1.5 5.7"/>
</g>
<text transform="translate(-0.6,32.8) scale(1.0,1)" font-size="19.5" text-anchor="start" fill="#000">10<tspan font-size="14.0" dy="-10.3">3</tspan><tspan dy="10.3" font-size="19.5">​</tspan></text>
<text transform="translate(-0.6,71.62857142857142) scale(1.0,1)" font-size="19.5" text-anchor="start" fill="#000">10<tspan font-size="14.0" dy="-10.3">2</tspan><tspan dy="10.3" font-size="19.5">​</tspan></text>
<text transform="translate(25.2,110.45714285714286) scale(1.0,1)" font-size="19.5" text-anchor="end" fill="#000">10</text>
<text transform="translate(25.2,149.2857142857143) scale(1.0,1)" font-size="19.5" text-anchor="end" fill="#000">1</text>
<text transform="translate(-0.6,188.11428571428573) scale(1.0,1)" font-size="19.5" text-anchor="start" fill="#000">10<tspan font-size="14.0" dy="-10.3">-1</tspan><tspan dy="10.3" font-size="19.5">​</tspan></text>
<text transform="translate(-0.6,226.94285714285715) scale(1.0,1)" font-size="19.5" text-anchor="start" fill="#000">10<tspan font-size="14.0" dy="-10.3">-2</tspan><tspan dy="10.3" font-size="19.5">​</tspan></text>
<text transform="translate(-0.6,265.7714285714286) scale(1.0,1)" font-size="19.5" text-anchor="start" fill="#000">10<tspan font-size="14.0" dy="-10.3">-3</tspan><tspan dy="10.3" font-size="19.5">​</tspan></text>
<text transform="translate(-0.6,304.6) scale(1.0,1)" font-size="19.5" text-anchor="start" fill="#000">10<tspan font-size="14.0" dy="-10.3">-4</tspan><tspan dy="10.3" font-size="19.5">​</tspan></text>
<text transform="translate(30.4,320.1) scale(1.0,1)" font-size="19.5" text-anchor="middle" fill="#000">0.0</text>
<text transform="translate(165.70000000000002,320.1) scale(1.0,1)" font-size="19.5" text-anchor="middle" fill="#000">0.5</text>
<text transform="translate(296.6,320.1) scale(1.0,1)" font-size="19.5" text-anchor="middle" fill="#000">1.0</text>
<text transform="translate(426.3,320.1) scale(1.0,1)" font-size="19.5" text-anchor="middle" fill="#000">0.5</text>
<text transform="translate(557.2,320.1) scale(1.0,1)" font-size="19.5" text-anchor="middle" fill="#000">1.0</text>
<text transform="translate(686.9000000000001,320.1) scale(1.0,1)" font-size="19.5" text-anchor="middle" fill="#000">0.5</text>
<text transform="translate(817.8000000000001,320.1) scale(1.0,1)" font-size="19.5" text-anchor="middle" fill="#000">1.0</text>
<text transform="translate(296.3,337.3) scale(1.0,1)" font-size="23.4" text-anchor="end" fill="#000">z</text>
<text transform="translate(556.9,337.3) scale(1.0,1)" font-size="23.4" text-anchor="end" fill="#000">z</text>
<text transform="translate(817.5,337.3) scale(1.0,1)" font-size="23.4" text-anchor="end" fill="#000">z</text>
<text transform="translate(140.2,13.5) scale(1.0,1)" font-size="19.5" text-anchor="start" fill="#000">D<tspan font-size="14.0" dy="6.6" dx="-0.7">g</tspan><tspan dy="-6.6" font-size="19.5">​</tspan>(z)</text>
<text transform="translate(361.3,13.5) scale(1.0,1)" font-size="19.5" text-anchor="start" fill="#000">D<tspan font-size="14.0" dy="6.6" dx="-0.7">d</tspan><tspan dy="-6.6" font-size="19.5">​</tspan>(z), <tspan dx="1.0">D</tspan><tspan font-size="14.0" dy="6.6" dx="-0.7">u</tspan><tspan dy="-6.6" font-size="19.5">​</tspan>(z)</text>
<text transform="translate(661.3,13.5) scale(1.0,1)" font-size="19.5" text-anchor="start" fill="#000">D<tspan font-size="14.0" dy="6.6" dx="-0.7">s</tspan><tspan dy="-6.6" font-size="19.5">​</tspan>(z)</text>
<line x1="375.6" y1="8.2" x2="383.2" y2="8.2" stroke="#000" stroke-width="1.1"/>
<text transform="translate(374.0,54.7) scale(1.0,1)" font-size="19.5" text-anchor="start" fill="#000">E=10.0 GeV</text>
<text transform="translate(374.0,78.1) scale(1.0,1)" font-size="19.5" text-anchor="start" fill="#000">L=5.0 fm</text>
<text transform="translate(374.0,101.6) scale(1.0,1)" font-size="19.5" text-anchor="start" fill="#000">Q<tspan font-size="14.0" dy="-10.3">2</tspan><tspan dy="10.3" font-size="19.5">​</tspan>=10.0 GeV<tspan font-size="14.0" dy="-10.3">2</tspan><tspan dy="10.3" font-size="19.5">​</tspan></text>
<text transform="translate(158.5,101.0) scale(1.0,1)" font-size="19.5" text-anchor="start" fill="#000">HKN</text>
<text transform="translate(210.6,101.0) scale(1.06,1)" font-size="20.3" style="font-family:'Liberation Serif',serif;font-weight:normal">π</text>
<text transform="translate(222.2,91.6) scale(1.0,1)" font-size="11.8" text-anchor="start" fill="#000">+</text>
<line x1="608.8" y1="48.5" x2="647.8" y2="48.5" stroke="#000000" stroke-width="2.3"/>
<text transform="translate(652.9,55.0) scale(1.0,1)" font-size="19.5" text-anchor="start" fill="#000000">q=0.0 (vacuum)</text>
<path d="M656.7,42.7 l2,-2.1 l2,2.1" fill="none" stroke="#000000" stroke-width="1.15"/>
<line x1="608.8" y1="70.8" x2="647.8" y2="70.8" stroke="#ff0000" stroke-width="2.3" stroke-dasharray="5 4.3"/>
<text transform="translate(652.9,78.0) scale(1.0,1)" font-size="19.5" text-anchor="start" fill="#ff0000">q=0.01 GeV<tspan font-size="14.0" dy="-10.3">2</tspan><tspan dy="10.3" font-size="19.5">​</tspan>/fm</text>
<path d="M656.7,65.7 l2,-2.1 l2,2.1" fill="none" stroke="#ff0000" stroke-width="1.15"/>
<line x1="608.8" y1="94.2" x2="647.8" y2="94.2" stroke="#0000ff" stroke-width="2.3" stroke-dasharray="1.6 3.05"/>
<text transform="translate(652.9,101.2) scale(1.0,1)" font-size="19.5" text-anchor="start" fill="#0000ff">q=0.05 GeV<tspan font-size="14.0" dy="-10.3">2</tspan><tspan dy="10.3" font-size="19.5">​</tspan>/fm</text>
<path d="M656.7,88.9 l2,-2.1 l2,2.1" fill="none" stroke="#0000ff" stroke-width="1.15"/>
<line x1="608.8" y1="117.3" x2="647.8" y2="117.3" stroke="#ff00ff" stroke-width="2.3" stroke-dasharray="5 6.3 1.4 6.3"/>
<text transform="translate(652.9,124.6) scale(1.0,1)" font-size="19.5" text-anchor="start" fill="#ff00ff">q=0.10 GeV<tspan font-size="14.0" dy="-10.3">2</tspan><tspan dy="10.3" font-size="19.5">​</tspan>/fm</text>
<path d="M656.7,112.3 l2,-2.1 l2,2.1" fill="none" stroke="#ff00ff" stroke-width="1.15"/>
</svg></body></html>
